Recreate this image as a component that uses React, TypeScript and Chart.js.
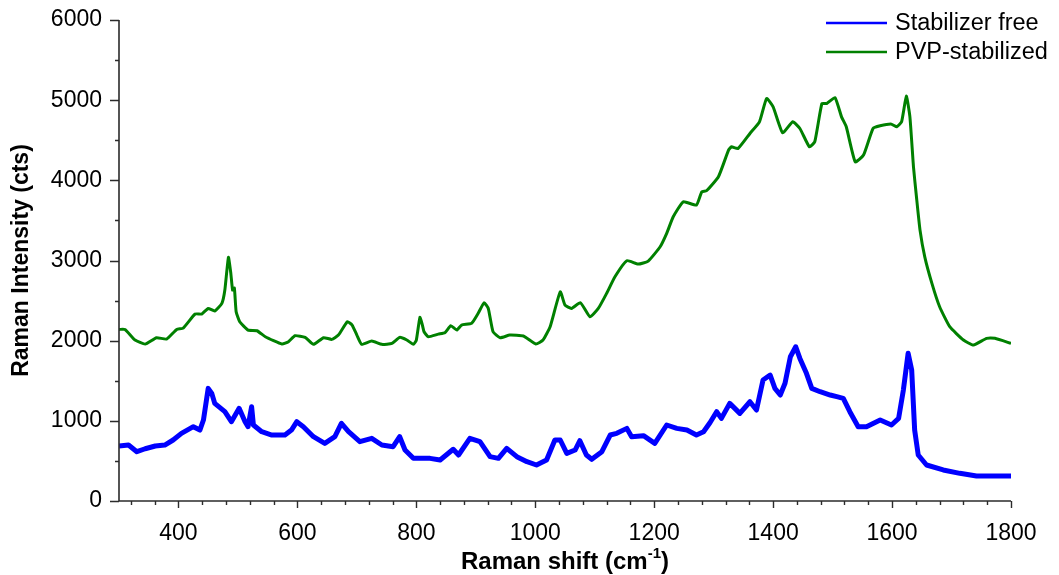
import React, { useEffect, useRef } from "react";
import { Chart, registerables } from "chart.js";

Chart.register(...registerables);

const FONT = '"Liberation Sans", Arial, Helvetica, sans-serif';

// Raman shift (cm-1) and intensity (cts) for the bare nanoparticles
const freeShift = [
  300, 316, 330, 344, 361, 377, 391, 405, 425, 436, 442, 450, 456, 461, 478, 489, 502, 512, 517, 523,
  526, 540, 557, 579, 590, 599, 610, 627, 646, 663, 674, 686, 705, 725, 742, 761, 772, 781, 795, 806,
  823, 840, 862, 871, 890, 907, 924, 938, 952, 969, 986, 1002, 1019, 1033, 1042, 1053, 1067, 1075, 1086, 1095,
  1112, 1126, 1137, 1154, 1162, 1182, 1201, 1221, 1238, 1255, 1271, 1283, 1294, 1305, 1313, 1327, 1344, 1361, 1372, 1383,
  1395, 1403, 1412, 1420, 1429, 1438, 1445, 1456, 1465, 1479, 1496, 1507, 1518, 1529, 1543, 1557, 1580, 1599, 1611, 1619,
  1627, 1633, 1638, 1644, 1658, 1686, 1714, 1742, 1770, 1800,
];
const freeCounts = [
  686, 698, 615, 652, 686, 698, 761, 844, 927, 885, 1010, 1405, 1343, 1218, 1114, 989, 1156, 989, 927, 1176,
  948, 864, 823, 823, 885, 989, 927, 802, 719, 802, 969, 864, 740, 782, 698, 677, 802, 636, 532, 532,
  532, 511, 645, 574, 782, 740, 553, 532, 657, 553, 490, 449, 511, 761, 761, 594, 636, 752, 574, 520,
  615, 823, 844, 906, 802, 815, 719, 948, 906, 885, 823, 864, 980, 1114, 1031, 1218, 1093, 1238, 1135, 1509,
  1571, 1405, 1322, 1468, 1799, 1924, 1779, 1592, 1405, 1363, 1322, 1301, 1281, 1114, 927, 927, 1010, 948, 1031, 1384,
  1842, 1634, 885, 574, 449, 387, 345, 312, 312, 312,
];

// Raman shift (cm-1) and intensity (cts) for the PVP-coated nanoparticles
const pvpShift = [
  300, 310, 327, 344, 363, 380, 397, 408, 428, 439, 450, 461, 473, 478, 484, 488, 491, 494, 497, 503,
  517, 532, 546, 574, 585, 596, 613, 627, 644, 658, 669, 684, 692, 700, 708, 725, 742, 759, 772, 784,
  795, 800, 806, 810, 813, 820, 837, 848, 858, 868, 876, 893, 904, 914, 921, 929, 941, 957, 980, 1001,
  1013, 1025, 1042, 1050, 1061, 1076, 1092, 1106, 1120, 1134, 1154, 1173, 1190, 1210, 1221, 1232, 1249, 1271, 1280, 1288,
  1308, 1325, 1330, 1341, 1361, 1377, 1389, 1400, 1416, 1433, 1445, 1461, 1470, 1482, 1490, 1504, 1515, 1523, 1538, 1552,
  1568, 1580, 1599, 1608, 1616, 1624, 1630, 1636, 1641, 1647, 1655, 1667, 1680, 1697, 1720, 1737, 1759, 1773, 1800,
];
const pvpCounts = [
  2140, 2140, 2008, 1957, 2037, 2020, 2140, 2157, 2332, 2332, 2402, 2370, 2465, 2631, 3039, 2843, 2631, 2656, 2361, 2236,
  2132, 2124, 2049, 1958, 1987, 2062, 2041, 1954, 2037, 2016, 2070, 2236, 2195, 2070, 1954, 1995, 1954, 1966, 2041, 2008,
  1954, 2008, 2290, 2200, 2111, 2049, 2082, 2099, 2186, 2132, 2195, 2216, 2341, 2473, 2402, 2111, 2037, 2070, 2058, 1958,
  2008, 2174, 2610, 2444, 2402, 2473, 2298, 2402, 2590, 2797, 2997, 2955, 2993, 3171, 3338, 3545, 3732, 3691, 3857, 3870,
  4044, 4377, 4418, 4398, 4585, 4730, 5021, 4917, 4593, 4730, 4647, 4418, 4481, 4958, 4958, 5033, 4792, 4668, 4231, 4315,
  4647, 4680, 4701, 4668, 4730, 5050, 4792, 4169, 3795, 3379, 3046, 2715, 2423, 2174, 2008, 1945, 2029, 2029, 1966,
];

// Axis tick positions: labelled every 200 cm-1 / 1000 cts, minor marks in between
const shiftTicks = [
  320, 360, 400, 440, 480, 520, 560, 600, 640, 680, 720, 760, 800, 840, 880, 920, 960, 1000,
  1040, 1080, 1120, 1160, 1200, 1240, 1280, 1320, 1360, 1400, 1440, 1480, 1520, 1560, 1600,
  1640, 1680, 1720, 1760, 1800,
];
const shiftLabels = [400, 600, 800, 1000, 1200, 1400, 1600, 1800];
const countTicks = [0, 500, 1000, 1500, 2000, 2500, 3000, 3500, 4000, 4500, 5000, 5500, 6000];
const countLabels = [0, 1000, 2000, 3000, 4000, 5000, 6000];

const seriesNames = ["Stabilizer free", "PVP-stabilized"];
const seriesColors = ["#0000ff", "#008000"];

const AXIS_COLOR = "#2b2b2b";

const frame = {
  id: "frameAndLegend",
  afterDraw(chart: any) {
    const { ctx, chartArea, scales } = chart;
    const { left, right, top, bottom } = chartArea;
    const x = scales.x;
    const y = scales.y;
    ctx.save();

    // axis lines
    ctx.strokeStyle = AXIS_COLOR;
    ctx.lineWidth = 1.6;
    ctx.beginPath();
    ctx.moveTo(left, top);
    ctx.lineTo(left, bottom);
    ctx.lineTo(right, bottom);
    ctx.stroke();

    // tick marks
    ctx.lineWidth = 1.4;
    ctx.beginPath();
    for (const v of shiftTicks) {
      const px = Math.round(x.getPixelForValue(v)) + 0.5;
      const len = shiftLabels.includes(v) ? 7 : 4;
      ctx.moveTo(px, bottom);
      ctx.lineTo(px, bottom + len);
    }
    for (const v of countTicks) {
      const py = Math.round(y.getPixelForValue(v)) + 0.5;
      const len = countLabels.includes(v) ? 9 : 4;
      ctx.moveTo(left, py);
      ctx.lineTo(left - len, py);
    }
    ctx.stroke();

    // x-axis title with superscript
    ctx.fillStyle = "#000";
    ctx.textBaseline = "alphabetic";
    const mainFont = `bold 24px ${FONT}`;
    const supFont = `bold 15px ${FONT}`;
    const main = "Raman shift (cm";
    const sup = "-1";
    const close = ")";
    ctx.font = mainFont;
    const wMain = ctx.measureText(main).width;
    const wClose = ctx.measureText(close).width;
    ctx.font = supFont;
    const wSup = ctx.measureText(sup).width;
    let sx = (left + right) / 2 - (wMain + wSup + wClose) / 2;
    const base = 569;
    ctx.font = mainFont;
    ctx.textAlign = "left";
    ctx.fillText(main, sx, base);
    sx += wMain;
    ctx.font = supFont;
    ctx.fillText(sup, sx, base - 11);
    sx += wSup;
    ctx.font = mainFont;
    ctx.fillText(close, sx, base);

    // legend in the upper right corner
    ctx.font = `23.5px ${FONT}`;
    ctx.textBaseline = "middle";
    const rows = [23, 52];
    chart.data.datasets.forEach((ds: any, i: number) => {
      const ly = rows[i];
      ctx.strokeStyle = ds.borderColor;
      ctx.lineWidth = 2.6;
      ctx.beginPath();
      ctx.moveTo(826, ly);
      ctx.lineTo(887, ly);
      ctx.stroke();
      ctx.fillStyle = "#000";
      ctx.fillText(ds.label, 895, ly + 1);
    });

    ctx.restore();
  },
};

export default function App() {
  const canvasRef = useRef<HTMLCanvasElement | null>(null);

  useEffect(() => {
    const canvas = canvasRef.current;
    if (!canvas) return;

    const freePoints = freeShift.map((s, i) => ({ x: s, y: freeCounts[i] }));
    const pvpPoints = pvpShift.map((s, i) => ({ x: s, y: pvpCounts[i] }));

    const chart = new Chart(canvas, {
      type: "line",
      data: {
        datasets: [
          {
            label: seriesNames[0],
            data: freePoints,
            borderColor: seriesColors[0],
            backgroundColor: seriesColors[0],
            borderWidth: 5,
            pointRadius: 0,
            tension: 0,
            borderJoinStyle: "round",
          },
          {
            label: seriesNames[1],
            data: pvpPoints,
            borderColor: seriesColors[1],
            backgroundColor: seriesColors[1],
            borderWidth: 3,
            pointRadius: 0,
            tension: 0.15,
            borderJoinStyle: "round",
          },
        ],
      },
      options: {
        animation: false,
        responsive: true,
        maintainAspectRatio: false,
        layout: { padding: { top: 20, right: 48, left: 0, bottom: 0 } },
        plugins: {
          legend: { display: false },
          tooltip: { enabled: false },
        },
        scales: {
          x: {
            type: "linear",
            min: 300,
            max: 1800,
            grid: { display: false, drawTicks: false, tickLength: 0 },
            border: { display: false },
            afterBuildTicks: (scale: any) => {
              scale.ticks = shiftTicks.map((v) => ({ value: v }));
            },
            afterFit: (scale: any) => {
              scale.height = 74;
              scale.paddingLeft = 0;
              scale.paddingRight = 0;
            },
            ticks: {
              autoSkip: false,
              maxRotation: 0,
              padding: 19,
              color: "#000",
              font: { family: FONT, size: 23 },
              callback: (v: any) => (shiftLabels.includes(Number(v)) ? String(v) : ""),
            },
          },
          y: {
            type: "linear",
            min: 0,
            max: 6000,
            grid: { display: false, drawTicks: false, tickLength: 0 },
            border: { display: false },
            afterBuildTicks: (scale: any) => {
              scale.ticks = countTicks.map((v) => ({ value: v }));
            },
            afterFit: (scale: any) => {
              scale.width = 119;
              scale.paddingTop = 0;
              scale.paddingBottom = 0;
            },
            ticks: {
              autoSkip: false,
              padding: 17,
              color: "#000",
              font: { family: FONT, size: 23 },
              callback: (v: any) => (countLabels.includes(Number(v)) ? String(v) : ""),
            },
            title: {
              display: true,
              text: "Raman Intensity (cts)",
              color: "#000",
              font: { family: FONT, size: 23, weight: "bold" },
              padding: { top: 8, bottom: 0 },
            },
          },
        },
      },
      plugins: [frame],
    });

    return () => chart.destroy();
  }, []);

  return (
    <div style={{ position: "absolute", left: 0, top: 0, width: 1059, height: 575, background: "#fff" }}>
      <canvas ref={canvasRef} />
    </div>
  );
}
